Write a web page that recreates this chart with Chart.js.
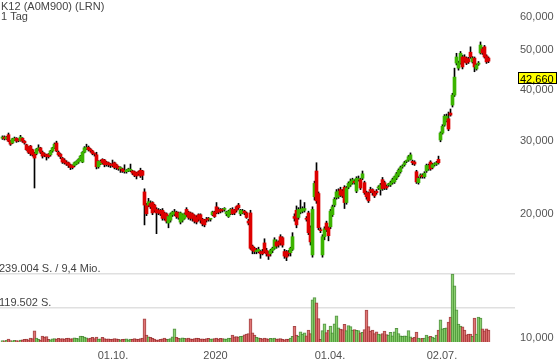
<!DOCTYPE html>
<html>
<head>
<meta charset="utf-8">
<title>K12 (A0M900) (LRN)</title>
<style>
  body { margin: 0; background: #fff; }
</style>
</head>
<body>
<canvas id="chart" width="560" height="363"></canvas>
<script src="https://cdn.jsdelivr.net/npm/chart.js@4/dist/chart.umd.min.js"></script>
<script>
// daily candles (EUR)
const opens = [
  30.5,30.7,30.4,31.1,30.0,29.7,30.2,30.5,30.2,30.1,
  30.5,30.0,29.4,29.0,29.2,28.6,28.0,28.0,28.7,28.9,
  28.2,27.9,27.8,27.9,27.8,28.4,28.9,29.7,28.2,27.9,
  27.3,27.0,26.7,26.6,26.3,26.2,26.2,26.4,26.7,27.0,
  26.7,28.2,28.7,29.0,28.7,28.4,28.0,27.8,26.0,26.4,
  27.1,27.0,26.7,26.6,26.4,26.4,26.6,26.3,26.0,25.7,
  25.7,25.5,25.3,25.4,25.5,25.4,25.3,25.1,25.3,25.5,
  25.4,22.6,21.0,21.0,21.2,21.3,21.0,20.5,20.4,20.4,
  20.4,20.1,20.0,19.0,19.3,19.9,20.0,20.2,20.1,19.1,
  19.3,19.5,20.5,20.2,20.1,20.0,19.8,19.6,19.9,19.9,
  19.4,19.3,19.4,19.5,19.4,19.9,20.2,20.8,20.5,20.5,
  20.5,20.5,20.0,19.7,20.0,20.5,20.4,20.8,21.0,20.0,
  20.1,20.3,20.1,19.2,20.1,16.7,16.5,16.2,16.2,16.2,
  16.2,17.0,16.3,16.1,16.0,16.3,16.5,17.1,17.1,17.6,
  17.5,16.2,16.2,16.1,16.1,16.4,19.7,20.4,19.6,20.2,
  20.3,20.4,19.5,20.1,18.5,15.9,22.0,25.4,22.4,18.3,
  15.9,17.6,19.0,18.5,18.6,19.9,21.0,21.9,22.0,22.9,
  22.7,23.2,21.3,23.2,23.5,23.8,24.0,22.7,24.2,24.2,
  24.4,23.8,22.5,22.5,22.9,22.9,22.5,22.7,23.1,22.9,
  24.2,23.8,23.3,23.5,23.5,23.8,23.9,24.4,24.8,25.3,
  26.0,26.3,26.8,27.0,27.1,26.8,26.7,25.3,23.8,24.7,
  24.8,24.6,25.4,25.7,26.7,25.9,26.3,26.4,27.1,30.2,
  31.4,32.8,33.6,34.0,35.1,36.7,38.8,46.4,45.1,46.4,
  48.0,48.0,47.7,47.5,49.3,46.7,47.7,44.9,46.1,49.1,
  50.2,50.8,48.3,47.7
];
const highs = [
  30.9,30.9,30.8,31.4,30.1,30.5,30.7,30.6,30.4,31.0,
  30.6,30.1,29.5,29.1,29.3,28.7,28.2,28.8,29.4,29.0,
  28.4,28.1,27.9,28.0,28.5,29.0,29.7,30.0,28.4,28.0,
  27.4,27.2,26.9,26.7,26.4,26.3,26.7,26.9,27.2,27.7,
  28.3,29.1,29.5,29.2,28.8,28.5,28.1,28.2,26.9,27.0,
  27.2,27.1,26.8,26.7,26.5,27.0,26.7,26.4,26.1,26.0,
  25.8,26.3,25.6,25.8,26.4,25.5,25.4,25.2,25.4,25.8,
  25.5,23.0,21.2,21.8,21.5,21.4,21.1,20.7,20.6,20.5,
  20.6,20.2,20.1,19.8,20.1,20.3,20.5,20.3,20.2,20.2,
  20.0,20.1,20.7,20.3,20.2,20.1,19.9,19.8,20.0,20.0,
  19.5,19.4,19.6,19.6,19.5,20.3,20.3,21.3,20.7,20.6,
  20.6,20.7,20.3,20.4,20.6,20.7,20.5,20.9,21.2,20.5,
  20.5,20.4,20.2,19.4,20.4,16.8,16.6,16.5,16.6,16.3,
  16.4,17.4,16.5,16.2,16.4,16.6,17.5,17.3,17.2,17.8,
  17.6,16.4,16.3,16.3,16.6,18.0,20.0,20.9,20.7,21.6,
  20.8,21.3,19.7,20.3,18.7,20.8,24.0,26.6,22.6,18.5,
  17.8,18.6,19.2,18.6,20.5,21.0,21.9,22.9,23.0,23.2,
  22.9,23.4,23.3,23.9,24.3,24.4,24.2,24.6,24.7,24.4,
  25.4,24.0,22.7,22.6,23.2,23.0,22.7,22.9,23.4,23.7,
  24.5,24.0,23.5,23.7,24.0,24.4,24.7,25.2,25.7,26.1,
  26.3,26.8,27.0,27.7,28.1,27.0,26.9,25.5,24.6,25.0,
  25.0,25.3,26.4,26.4,26.9,26.5,26.6,26.8,27.6,31.6,
  32.9,34.8,34.9,35.3,35.9,39.2,45.1,49.0,46.9,49.5,
  48.5,48.6,48.0,47.9,50.8,48.1,48.0,46.2,46.8,52.2,
  50.6,51.2,48.6,48.0
];
const lows = [
  30.3,30.2,30.3,29.9,29.3,29.6,30.1,29.8,29.9,30.0,
  29.8,29.5,28.5,28.0,27.7,27.6,23.1,27.8,28.5,28.0,
  27.3,27.5,27.0,27.3,27.6,28.2,28.8,28.3,27.6,27.2,
  26.5,26.4,26.2,25.9,25.6,25.7,26.0,26.3,26.5,26.9,
  26.6,28.1,28.6,28.4,28.2,27.8,27.6,25.7,25.8,26.3,
  26.4,26.0,26.1,26.0,25.9,26.0,25.7,25.6,25.5,25.2,
  25.2,25.1,25.1,25.3,25.3,24.9,24.6,24.3,24.8,24.5,
  24.2,18.8,19.8,20.8,20.6,19.9,20.2,17.9,19.9,19.8,
  19.3,19.3,19.0,18.5,19.1,19.7,19.8,19.5,19.4,18.9,
  19.1,19.4,19.7,19.4,19.3,19.2,19.0,18.9,19.2,19.0,
  18.7,18.6,19.1,19.2,19.2,19.8,19.6,20.0,20.0,20.1,
  20.2,20.3,19.8,19.6,19.9,19.9,19.9,20.2,20.5,19.8,
  20.0,19.9,19.5,18.8,16.4,16.0,16.0,16.0,16.1,15.6,
  15.9,16.1,15.8,15.5,15.8,16.1,16.4,16.5,16.6,16.8,
  16.6,15.6,15.4,15.8,15.8,16.3,19.2,18.5,19.4,20.0,
  20.1,20.2,19.2,17.8,16.8,15.7,21.6,21.2,18.3,18.0,
  15.7,17.3,18.1,17.2,18.4,19.7,20.8,21.7,21.8,22.0,
  21.9,20.6,21.1,23.0,23.3,23.6,23.6,22.5,24.0,22.9,
  24.2,22.3,21.7,21.3,22.5,22.2,21.9,22.3,22.9,22.2,
  22.8,22.9,22.9,23.3,23.3,23.6,23.7,24.2,24.6,25.1,
  25.8,26.1,26.6,26.8,27.0,26.3,26.2,23.7,23.6,24.4,
  24.4,24.4,25.2,25.5,25.5,25.7,26.1,26.2,26.4,29.9,
  31.2,32.6,33.4,31.8,34.5,36.3,38.5,45.9,44.6,46.1,
  44.9,46.6,46.0,46.3,47.6,46.4,44.2,44.6,45.8,48.8,
  48.7,47.7,46.3,46.5
];
const closes = [
  30.7,30.4,30.7,30.0,29.5,30.4,30.5,30.0,30.1,30.7,
  30.0,29.7,28.6,28.2,28.0,27.8,27.3,28.7,28.9,28.2,
  27.6,27.8,27.5,27.5,28.4,28.9,29.5,28.4,27.8,27.5,
  26.7,26.6,26.4,26.2,25.9,25.9,26.6,26.8,27.1,27.6,
  28.2,28.9,29.0,28.6,28.4,28.0,27.9,26.0,26.8,26.8,
  26.6,26.3,26.3,26.3,26.2,26.2,25.9,25.9,25.7,25.9,
  25.4,25.3,25.5,25.7,25.5,25.1,24.8,24.7,25.0,24.7,
  24.8,21.0,20.0,21.4,20.8,20.1,20.4,20.1,20.1,20.0,
  19.5,19.5,19.2,19.7,20.0,20.2,20.2,19.7,19.6,20.1,
  19.9,20.0,19.9,19.6,19.5,19.5,19.2,19.1,19.4,19.3,
  18.9,18.8,19.3,19.4,19.4,20.2,19.7,20.1,20.2,20.3,
  20.4,20.5,20.2,20.3,20.5,20.0,20.1,20.4,20.7,20.4,
  20.3,20.1,19.6,19.0,16.5,16.3,16.2,16.3,16.4,16.0,
  16.0,16.2,16.0,15.8,16.3,16.5,17.3,16.7,16.8,17.0,
  16.8,15.8,15.7,16.0,16.5,17.6,19.5,18.8,20.5,20.5,
  20.6,20.6,19.4,18.0,17.1,20.5,23.7,21.5,18.5,18.2,
  17.6,18.4,18.3,17.7,20.3,20.8,21.7,22.6,22.7,22.2,
  22.1,21.3,23.1,23.7,24.0,24.2,23.8,24.4,24.3,23.1,
  25.0,22.5,22.0,21.5,22.7,22.5,22.1,22.5,23.2,23.5,
  23.0,23.1,23.1,23.5,23.8,24.2,24.6,25.0,25.5,25.9,
  26.0,26.6,26.8,27.5,27.8,26.6,26.4,23.9,24.4,24.7,
  24.6,25.1,26.2,26.2,25.7,26.3,26.4,26.6,26.6,31.4,
  32.6,34.5,34.5,32.1,34.7,38.8,42.9,48.0,46.4,49.0,
  45.4,46.9,46.4,46.7,48.0,47.7,45.4,45.9,46.4,51.3,
  49.1,48.0,46.7,46.9
];
const volumes = [
  5000,4000,6000,10000,5000,4000,6000,5000,4000,7000,
  8000,9000,10000,8000,14000,12000,39000,14000,9000,7000,
  21000,17000,19000,9000,8000,11000,12000,10000,13000,11000,
  12000,10000,13000,14000,11000,12000,15000,13000,12000,21000,
  20000,17000,15000,12000,14000,16000,12000,17000,10000,11000,
  16000,12000,10000,11000,9000,10000,12000,11000,9000,8000,
  9000,10000,11000,8000,10000,9000,12000,10000,9000,12000,
  14000,81000,24000,18000,16000,13000,10000,7000,8000,9000,
  11000,14000,9000,10000,12000,18000,46000,16000,13000,12000,
  15000,13000,12000,14000,11000,9000,12000,14000,13000,10000,
  11000,9000,12000,13000,10000,11000,12000,14000,10000,13000,
  12000,11000,10000,14000,13000,24000,18000,19000,17000,20000,
  21000,25000,28000,30000,81000,32000,24000,16000,15000,13000,
  11000,14000,12000,10000,13000,12000,14000,10000,11000,12000,
  9000,8000,10000,9000,14000,20000,55000,24000,20000,36000,
  28000,32000,22000,42000,30000,148000,156000,138000,82000,9000,
  40000,64000,33000,42000,56000,32000,64000,92000,50000,45000,
  44000,62000,40000,58000,54000,42000,44000,41000,40000,32000,
  34000,44000,112000,54000,38000,42000,30000,36000,28000,26000,
  30000,38000,26000,24000,34000,22000,36000,48000,30000,22000,
  20000,22000,21000,40000,18000,14000,16000,35000,14000,12000,
  13000,14000,24000,18000,20000,17000,14000,24000,42000,78000,
  46000,48000,50000,70000,88000,239000,197000,113000,63000,56000,
  53000,42000,25000,28000,28000,20000,84000,28000,88000,84000,
  46000,39000,46000,42000
];

const priceTicks = [10, 20, 30, 40, 50, 60];
const dateTickPos = [55.25, 106.5, 163.75, 219.75];
const dateTickText = ['01.10.', '2020', '01.04.', '02.07.'];
const volTicks = [119502, 239004];
const volTickText = ['119.502 S.', '239.004 S. / 9,4 Mio.'];
const titleLines = ['K12 (A0M900) (LRN)', '1 Tag'];
const lastPrice = 42.66;

const FONT = '"Liberation Sans", Arial, sans-serif';
const fmt = v => v.toLocaleString('de-DE', {minimumFractionDigits: 3, maximumFractionDigits: 3});
const up = i => closes[i] >= opens[i];
const idx = opens.map((_, i) => i);

const overlay = {
  id: 'overlay',
  afterDraw(chart) {
    const ctx = chart.ctx, area = chart.chartArea;
    ctx.save();
    ctx.font = '11px ' + FONT;
    ctx.fillStyle = '#444';
    ctx.textBaseline = 'alphabetic';
    ctx.fillText(titleLines[0], 1, 10);
    ctx.fillText(titleLines[1], 1, 20);
    const yv = chart.scales.yv;
    volTicks.forEach((v, k) => ctx.fillText(volTickText[k], -1, yv.getPixelForValue(v) - 2));

    const py = Math.round(chart.scales.y.getPixelForValue(lastPrice));
    ctx.fillStyle = '#ffff00';
    ctx.fillRect(area.right + 3.5, py - 5.5, 38, 11);
    ctx.strokeStyle = '#000';
    ctx.lineWidth = 1;
    ctx.strokeRect(area.right + 3.5, py - 5.5, 38, 11);
    ctx.fillStyle = '#000';
    ctx.fillText(fmt(lastPrice), area.right + 5, py + 4.5);
    ctx.restore();
  }
};

new Chart(document.getElementById('chart'), {
  type: 'bar',
  data: {
    datasets: [
      {
        label: 'body',
        order: 0,
        grouped: false,
        barThickness: 3,
        minBarLength: 1,
        data: idx.map(i => ({x: i, y: [opens[i], closes[i]]})),
        backgroundColor: idx.map(i => up(i) ? '#3cb400' : '#dd0000')
      },
      {
        label: 'wick',
        order: 1,
        grouped: false,
        barThickness: 1,
        data: idx.map(i => ({x: i, y: [lows[i], highs[i]]})),
        backgroundColor: '#000'
      },
      {
        label: 'volume',
        order: 2,
        grouped: false,
        yAxisID: 'yv',
        barThickness: 3,
        borderWidth: 1,
        data: idx.map(i => ({x: i, y: volumes[i]})),
        backgroundColor: idx.map(i => up(i) ? 'rgba(140,215,110,0.85)' : 'rgba(228,115,115,0.85)'),
        borderColor: idx.map(i => up(i) ? 'rgba(60,130,40,0.85)' : 'rgba(150,40,40,0.85)')
      }
    ]
  },
  options: {
    responsive: false,
    animation: false,
    layout: {padding: {top: 17, left: 0, right: 0, bottom: 0}},
    plugins: {legend: {display: false}, tooltip: {enabled: false}},
    scales: {
      x: {
        type: 'linear',
        offset: false,
        min: -1.25,
        max: 256.25,
        grid: {display: false, drawTicks: false},
        border: {display: false},
        afterBuildTicks: s => { s.ticks = dateTickPos.map(v => ({value: v})); },
        afterFit: s => { s.height = 21; s.paddingLeft = 0; s.paddingRight = 0; },
        ticks: {
          autoSkip: false,
          maxRotation: 0,
          padding: 7,
          color: '#505050',
          font: {family: FONT, size: 11},
          callback: (v, k) => dateTickText[k]
        }
      },
      y: {
        type: 'logarithmic',
        position: 'right',
        min: 9.779,
        max: 60,
        bounds: 'data',
        grid: {display: false, drawTicks: false},
        border: {display: false},
        afterBuildTicks: s => { s.ticks = priceTicks.map(v => ({value: v})); },
        afterFit: s => { s.width = 45; s.paddingTop = 0; s.paddingBottom = 0; },
        ticks: {
          padding: 5,
          color: '#555',
          font: {family: FONT, size: 11},
          callback: v => fmt(v)
        }
      },
      yv: {
        type: 'linear',
        position: 'left',
        min: 0,
        max: 1142300,
        grid: {color: '#e0e0e0', lineWidth: 1.5, drawTicks: false},
        border: {display: false},
        afterBuildTicks: s => { s.ticks = volTicks.map(v => ({value: v})); },
        afterFit: s => { s.width = 0; s.paddingTop = 0; s.paddingBottom = 0; },
        ticks: {display: false}
      }
    }
  },
  plugins: [overlay]
});
</script>
</body>
</html>
